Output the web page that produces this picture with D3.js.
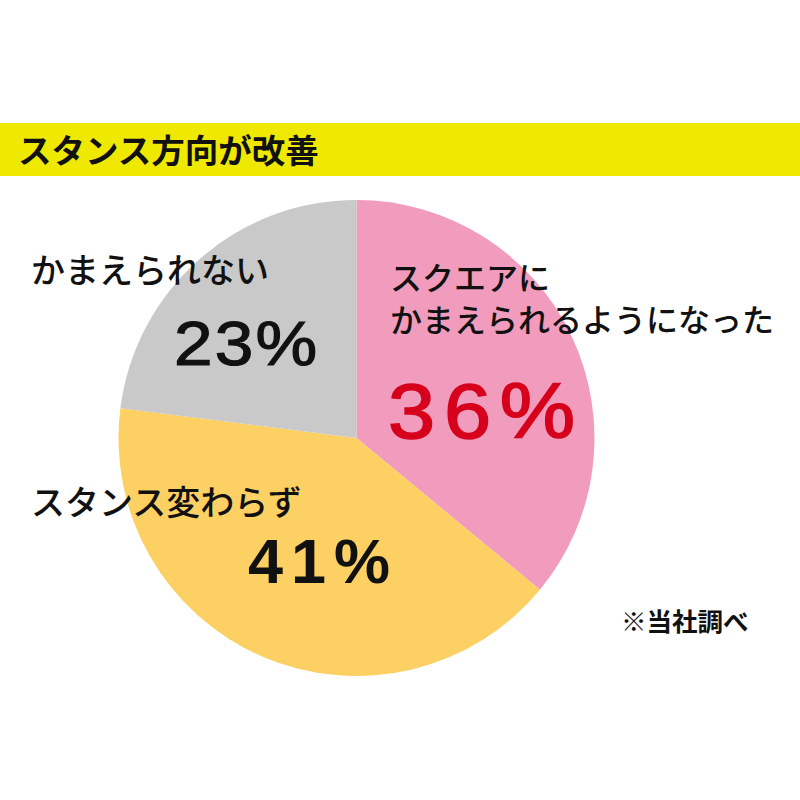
<!DOCTYPE html>
<html><head><meta charset="utf-8">
<script src="https://cdn.jsdelivr.net/npm/d3@7"></script>
<style>
html,body{margin:0;padding:0;background:#fff;}
svg{display:block;}
.jp{font-family:"Noto Sans CJK JP","Noto Sans",sans-serif;}
.num{font-family:"Liberation Sans",Arial,Helvetica,sans-serif;}
</style></head>
<body>
<svg id="c" width="800" height="800"></svg>
<script>
const title = "スタンス方向が改善";
const categories = ["スクエアにかまえられるようになった", "スタンス変わらず", "かまえられない"];
const values = [36, 41, 23];
const colors = ["#F19CBC", "#FDD063", "#C9C9C9"];
const note = "※当社調べ";

const svg = d3.select("#c");
svg.append("rect").attr("x",0).attr("y",123).attr("width",800).attr("height",53).attr("fill","#EFE800");
svg.append("text").attr("class","jp").attr("x",18).attr("y",163)
  .attr("font-size",33.5).attr("font-weight",700).attr("fill","#111").text(title);

const cx = 356.5, cy = 438, r = 238;
const pie = d3.pie().sort(null).value(d=>d)(values);
const arc = d3.arc().innerRadius(0).outerRadius(r);
const g = svg.append("g").attr("transform",`translate(${cx},${cy})`);
g.selectAll("path").data(pie).join("path").attr("d",arc).attr("fill",(d,i)=>colors[i]);

// labels
const jp = (x,y,t,size)=>svg.append("text").attr("class","jp").attr("x",x).attr("y",y)
  .attr("font-size",size).attr("font-weight",500).attr("fill","#111").text(t);
jp(390,290,"スクエアに",32);
jp(390,332,"かまえられるようになった",32);
jp(31,515,"スタンス変わらず",34);
jp(31,283,"かまえられない",34);

const num = (x,y,t,size,col,w,ls,sx,sw)=>svg.append("text").attr("class","num")
  .attr("transform",`translate(${x},${y}) scale(${sx},1)`)
  .attr("font-size",size).attr("font-weight",w).attr("fill",col)
  .attr("stroke",col).attr("stroke-width",sw)
  .attr("letter-spacing",ls).text(t);
num(388,438,values[0]+"%",77,"#D6001C",400,8,1.1,1.6);
num(174,365,values[2]+"%",63,"#111",400,2,1.1,1.2);
num(248,583,values[1]+"%",63,"#111",700,8,1,0);

svg.append("text").attr("class","jp").attr("x",621).attr("y",631)
  .attr("font-size",25.5).attr("font-weight",700).attr("fill","#111").text(note);
</script>
</body></html>
